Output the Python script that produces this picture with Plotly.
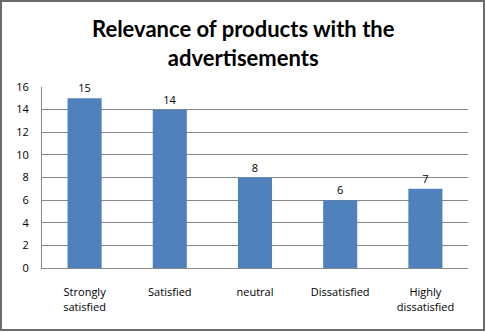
import plotly.graph_objects as go

categories = ["Strongly<br>satisfied", "Satisfied", "neutral", "Dissatisfied", "Highly<br>dissatisfied"]
values = [15, 14, 8, 6, 7]
y_ticks = [0, 2, 4, 6, 8, 10, 12, 14, 16]

W, H = 486, 332
ml, mr, mt, mb = 42, 18, 87, 64
pw, ph = W - ml - mr, H - mt - mb

fig = go.Figure(go.Bar(
    x=categories, y=values, width=0.4,
    marker=dict(color="#4F81BD", line=dict(width=0)),
    text=[str(v) for v in values], textposition="outside",
    textfont=dict(family="Open Sans, sans-serif", size=11, color="#000000"),
    cliponaxis=False,
))

fig.update_layout(
    width=W, height=H,
    margin=dict(l=ml, r=mr, t=mt, b=mb),
    paper_bgcolor="white", plot_bgcolor="white",
    showlegend=False,
    font=dict(family="Open Sans, sans-serif", size=11, color="#000000"),
    xaxis=dict(showline=True, linecolor="#868686", linewidth=1, showgrid=False,
               ticks="", tickfont=dict(size=11), ticklabelstandoff=14),
    yaxis=dict(range=[0, 16], tickvals=y_ticks, showgrid=True, gridcolor="#868686",
               gridwidth=1, showline=True, linecolor="#868686", linewidth=1,
               ticks="", ticklabelstandoff=10,
               tickfont=dict(size=11), zeroline=False),
    annotations=[dict(text="<b>Relevance of products with the<br>advertisements</b>",
                      xref="paper", yref="paper", x=(243 - ml) / pw, y=1 + (mt - 43) / ph,
                      xanchor="center", yanchor="middle", showarrow=False,
                      font=dict(family="Lato, sans-serif", size=22, color="#000000"))],
    shapes=[dict(type="rect", xref="paper", yref="paper",
                 x0=-(ml - 1) / pw, x1=1 + (mr - 2) / pw,
                 y0=-(mb - 2) / ph, y1=1 + (mt - 1) / ph,
                 line=dict(color="#6b6b6b", width=2), fillcolor="rgba(0,0,0,0)")],
)

fig.write_html("out.html")
